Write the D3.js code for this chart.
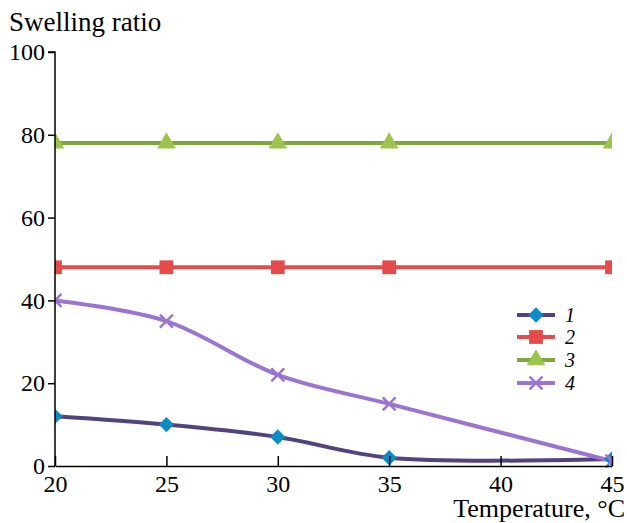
<!DOCTYPE html>
<html>
<head>
<meta charset="utf-8">
<script src="https://cdn.jsdelivr.net/npm/d3@7"></script>
<style>
  body { margin: 0; background: #fff; }
  svg { display: block; }
</style>
</head>
<body>
<div id="chart"></div>
<script>
(function() {
    'use strict';

    // data
    const temps = [20, 25, 30, 35, 45];
    const series1 = [12, 10, 7, 2, 1.7];
    const series2 = [48, 48, 48, 48, 48];
    const series3 = [78, 78, 78, 78, 78];
    const series4 = [40, 35, 22, 15, 1.2];
    const seriesNames = ["1", "2", "3", "4"];
    const xTicks = [20, 25, 30, 35, 40, 45];
    const yTicks = [0, 20, 40, 60, 80, 100];

    const serif = "Liberation Serif";

    const width = 627;
    const height = 523;
    const marginLeft = 55;
    const marginRight = 15;
    const marginTop = 52;
    const marginBottom = 57;

    const svg = d3.select("#chart")
        .append("svg")
        .attr("width", width)
        .attr("height", height);

    // SCALES
    const x = d3.scaleLinear()
        .domain([20, 45])
        .range([marginLeft, width - marginRight]);

    const y = d3.scaleLinear()
        .domain([0, 100])
        .range([height - marginBottom, marginTop]);

    const styles = [
        { line: "#54427f", marker: "#0d8cc6", shape: d3.symbolDiamond2, size: 150 },
        { line: "#e64b4b", marker: "#e64b4b", shape: d3.symbolSquare, size: 190 },
        { line: "#7ea83c", marker: "#9cc44e", shape: d3.symbolTriangle, size: 150 },
        { line: "#9b74d2", marker: "#9b74d2", shape: d3.symbolX, size: 110 }
    ];

    const allSeries = [series1, series2, series3, series4].map((vals, i) => ({
        name: seriesNames[i],
        style: styles[i],
        points: temps.map((t, j) => ({ t: t, v: vals[j] }))
    }));

    // clip to plot area
    svg.append("clipPath")
        .attr("id", "plot")
        .append("rect")
        .attr("x", x(20))
        .attr("y", 0)
        .attr("width", x(45) - x(20))
        .attr("height", y(0) + 2);

    const line = d3.line()
        .x(d => x(d.t))
        .y(d => y(d.v))
        .curve(d3.curveCatmullRom.alpha(0.5));

    const plot = svg.append("g").attr("clip-path", "url(#plot)");

    // LINES
    plot.selectAll("path.series")
        .data(allSeries)
        .join("path")
        .attr("class", "series")
        .attr("fill", "none")
        .attr("stroke", d => d.style.line)
        .attr("stroke-width", 4)
        .attr("d", d => line(d.points));

    // MARKERS
    allSeries.forEach(function(s) {
        plot.append("g")
            .selectAll("path")
            .data(s.points)
            .join("path")
            .attr("transform", d => `translate(${x(d.t)},${y(d.v)})`)
            .attr("d", d3.symbol().type(s.style.shape).size(s.style.size))
            .attr("fill", s.style.shape === d3.symbolX ? "none" : s.style.marker)
            .attr("stroke", s.style.shape === d3.symbolX ? s.style.marker : "none")
            .attr("stroke-width", 2.5);
    });

    // Y AXIS
    svg.append("g")
        .attr("transform", `translate(${marginLeft}, 0)`)
        .call(d3.axisLeft(y).tickValues(yTicks).tickSize(7).tickPadding(3))
        .call(g => g.attr("font-family", serif).attr("font-size", 24))
        .call(g => g.select(".domain").attr("stroke", "#000").attr("stroke-width", 1.5).attr("d", `M-7,${y(100)}H0V${y(0)}`))
        .call(g => g.selectAll("line").attr("stroke", "#000").attr("stroke-width", 1.5))
        .selectAll("text")
        .attr("fill", "#000")
        .style("font-family", serif)
        .style("font-size", "24px");

    // X AXIS
    svg.append("g")
        .attr("transform", `translate(0, ${height - marginBottom})`)
        .call(d3.axisBottom(x).tickValues(xTicks).tickSizeInner(-10).tickSizeOuter(0).tickPadding(9))
        .call(g => g.attr("font-family", serif).attr("font-size", 24))
        .call(g => g.select(".domain").attr("stroke", "#000").attr("stroke-width", 1.5))
        .call(g => g.selectAll("line").attr("stroke", "#000").attr("stroke-width", 1.5))
        .selectAll("text")
        .attr("fill", "#000")
        .style("font-family", serif)
        .style("font-size", "24px");

    // AXIS TITLES
    svg.append("text")
        .attr("x", 9)
        .attr("y", 31)
        .style("font-family", serif)
        .style("font-size", "27px")
        .attr("fill", "#000")
        .text("Swelling ratio");

    svg.append("text")
        .attr("x", width - 2)
        .attr("y", 517)
        .attr("text-anchor", "end")
        .style("font-family", serif)
        .style("font-size", "26px")
        .attr("fill", "#000")
        .text("Temperature, \u00b0C");

    // LEGEND
    const legendX = 517;
    const legendRows = [315, 337, 360, 383];
    const legend = svg.append("g");

    allSeries.forEach(function(s, i) {
        const row = legend.append("g").attr("transform", `translate(${legendX}, ${legendRows[i]})`);
        row.append("line")
            .attr("x1", 0).attr("x2", 38)
            .attr("stroke", s.style.line)
            .attr("stroke-width", 4);
        row.append("path")
            .attr("transform", "translate(19,0)")
            .attr("d", d3.symbol().type(s.style.shape).size(s.style.size))
            .attr("fill", s.style.shape === d3.symbolX ? "none" : s.style.marker)
            .attr("stroke", s.style.shape === d3.symbolX ? s.style.marker : "none")
            .attr("stroke-width", 2.5);
        row.append("text")
            .attr("x", 48)
            .attr("y", 7)
            .style("font-family", serif)
            .style("font-size", "20px")
            .style("font-style", "italic")
            .attr("fill", "#000")
            .text(s.name);
    });
})();
</script>
</body>
</html>
